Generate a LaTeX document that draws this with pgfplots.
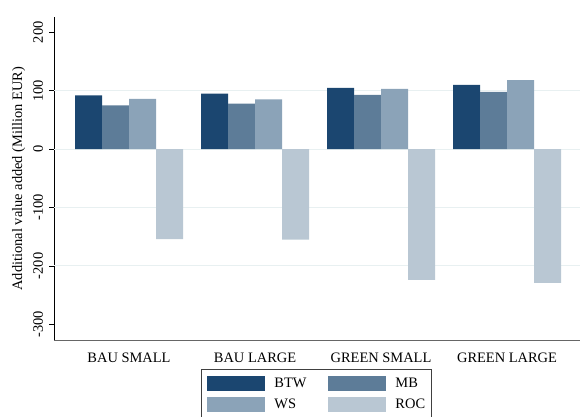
\documentclass[border=0pt]{standalone}
\usepackage{pgfplots}
\pgfplotsset{compat=1.18}
\usepackage{fontspec}
\setmainfont{Liberation Serif}
\definecolor{cBTW}{HTML}{1B4670}
\definecolor{cMB}{HTML}{5D7C98}
\definecolor{cWS}{HTML}{8BA3B8}
\definecolor{cROC}{HTML}{B9C7D3}
\definecolor{gridc}{HTML}{E8F0F1}
\newcommand\F{\fontsize{14.5}{17}\selectfont}
\begin{document}
\begin{tikzpicture}
\begin{axis}[
  at={(54.3bp,-340bp)}, anchor=south west,
  scale only axis, width=525.7bp, height=322.7bp,
  xmin=-0.593, xmax=3.579, ymin=-326.9, ymax=225.7,
  ybar=0pt, bar width=27bp,
  axis x line*=bottom, axis y line*=left,
  x axis line style={black!60, line width=1bp, -},
  y axis line style={black, line width=0.8bp, -},
  xtick={0,1,2,3},
  xticklabels={BAU SMALL, BAU LARGE, GREEN SMALL, GREEN LARGE},
  x tick style={draw=none},
  ytick={-300,-200,-100,0,100,200},
  y tick style={black, line width=0.8bp},
  tick align=outside, major tick length=5bp,
  extra y ticks={-200,-100,0,100},
  extra y tick labels={},
  extra y tick style={grid=major, major grid style={gridc, line width=1bp}, y tick style={draw=none}},
  tick label style={font=\F},
  /pgf/number format/assume math mode=true,
  yticklabel style={rotate=90, anchor=south, inner sep=0pt},
  yticklabel shift=6bp,
  xticklabel style={inner sep=0pt, yshift=-7.7bp},
  ylabel={Additional value added (Million EUR)},
  ylabel style={font=\F, at={(axis description cs:-0.0548,0.5)}, rotate=0, anchor=south, inner sep=0pt},
  legend columns=2,
  legend cell align=left,
  legend image code/.code={\fill[#1] (0bp,-7.65bp) rectangle (58bp,7.65bp);},
  legend style={at={(0.279,-0.0908)}, anchor=north west,
    draw=black!75, line width=0.8bp,
    inner xsep=6bp, inner ysep=6.4bp, font=\F, row sep=5.7bp,
    /tikz/every odd column/.append style={column sep=9bp},
    /tikz/every even column/.append style={column sep=22bp},
    nodes={inner sep=0pt, anchor=west}},
]
\addplot[fill=cBTW, draw=none] coordinates {(0,92) (1,95) (2,105) (3,110)};
\addplot[fill=cMB, draw=none] coordinates {(0,75) (1,78) (2,93) (3,98)};
\addplot[fill=cWS, draw=none] coordinates {(0,86) (1,85) (2,103) (3,118)};
\addplot[fill=cROC, draw=none] coordinates {(0,-154) (1,-155) (2,-224) (3,-229)};
\legend{BTW, MB, WS, ROC}
\end{axis}
\pgfresetboundingbox
\path[use as bounding box] (0,0) rectangle (580bp,-417bp);
\end{tikzpicture}
\end{document}
